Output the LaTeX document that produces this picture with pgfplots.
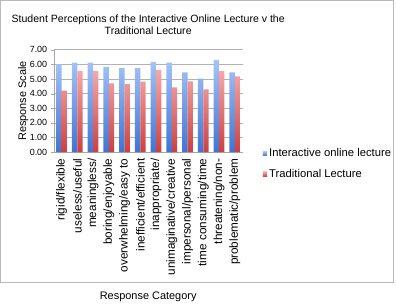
\documentclass[border=0pt]{standalone}
\usepackage{pgfplots}
\pgfplotsset{compat=1.18}
\usepackage{fontspec}
\setmainfont{Liberation Sans}
\definecolor{bluetop}{HTML}{A6C4F7}
\definecolor{bluebot}{HTML}{3F74D4}
\definecolor{redtop}{HTML}{F7A8A8}
\definecolor{redbot}{HTML}{CC4040}
\begin{document}
\begin{tikzpicture}[x=1pt,y=1pt]
\draw[gray!55, line width=1.2pt] (-53.4,-131.4) rectangle (341.4,152.4);
\node[align=center, font=\fontsize{10.6}{12.5}\selectfont] at (95,128) {Student Perceptions of the Interactive Online Lecture v the\\Traditional Lecture};
\begin{axis}[
  at={(0,0)}, anchor=south west,
  scale only axis, width=190pt, height=103pt,
  xmin=-0.5, xmax=11.5, ymin=0, ymax=7,
  ytick={0,1,...,7},
  /pgf/number format/assume math mode=true,
  yticklabel={\pgfmathprintnumber[fixed,fixed zerofill,precision=2]{\tick}},
  xtick={0,...,11},
  xticklabels={rigid/flexible, useless/useful, meaningless/, boring/enjoyable, overwhelming/easy to, inefficient/efficient, inappropriate/, unimaginative/creative, impersonal/personal, time consuming/time, threatening/non-, problematic/problem},
  xticklabel style={rotate=90, anchor=east, font=\fontsize{11.8}{13}\selectfont},
  yticklabel style={font=\fontsize{9}{11}\selectfont},
  major x tick style={draw=none},
  major y tick style={gray!70},
  tick align=outside, major tick length=3pt,
  axis x line*=bottom, axis y line*=left,
  axis line style={gray!70, -},
  ymajorgrids, grid style={gray!60, line width=0.6pt},
  ylabel={Response Scale}, xlabel={Response Category},
  label style={font=\fontsize{11}{13}\selectfont},
  ylabel shift=-5.5pt,
  xlabel shift=10pt,
  ybar, bar width=5.4pt,
  legend style={draw=none, at={(1.09,0.075)}, anchor=north west, font=\fontsize{11.3}{13}\selectfont, row sep=7pt, fill=none},
  legend cell align=left,
  legend image code/.code={\fill[#1] (0pt,-2.2pt) rectangle (4.4pt,2.2pt);},
]
\addplot[draw=none, top color=bluetop, bottom color=bluebot, bar shift=-2.7pt] coordinates {
(0,6.02) (1,6.12) (2,6.12) (3,5.82) (4,5.75) (5,5.75) (6,6.17) (7,6.12) (8,5.46) (9,5.03) (10,6.30) (11,5.45)};
\addplot[draw=none, top color=redtop, bottom color=redbot, bar shift=2.7pt] coordinates {
(0,4.20) (1,5.55) (2,5.55) (3,4.70) (4,4.65) (5,4.82) (6,5.62) (7,4.42) (8,4.83) (9,4.29) (10,5.56) (11,5.18)};
\legend{Interactive online lecture, Traditional Lecture}
\end{axis}
\end{tikzpicture}
\end{document}
